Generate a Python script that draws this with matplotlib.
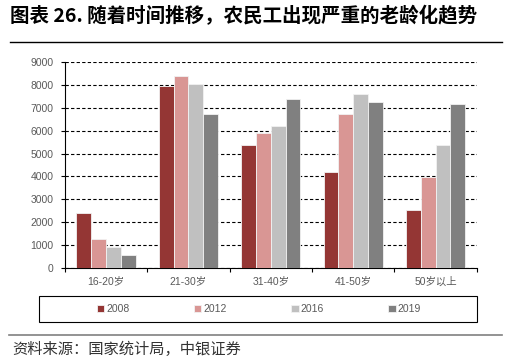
import numpy as np
import matplotlib
matplotlib.use('Agg')
from matplotlib import pyplot as plt
from matplotlib.patches import Rectangle
from matplotlib.lines import Line2D

plt.rcParams['font.family'] = ['Liberation Sans', 'Noto Sans CJK SC']

# data
age_groups = ['16-20岁', '21-30岁', '31-40岁', '41-50岁', '50岁以上']
years = ['2008', '2012', '2016', '2019']
vals_2008 = [2400, 7950, 5380, 4180, 2550]
vals_2012 = [1280, 8380, 5900, 6700, 3980]
vals_2016 = [930, 8030, 6180, 7600, 5380]
vals_2019 = [600, 6700, 7390, 7230, 7140]
series = [vals_2008, vals_2012, vals_2016, vals_2019]
colors = ['#943634', '#D99694', '#C0C0C0', '#808080']
yticks = list(range(0, 10000, 1000))

fig = plt.figure(figsize=(5.1, 3.62), dpi=100)
ax = fig.add_axes([0.1269, 0.2588, 0.935 - 0.1269, 0.8296 - 0.2588])

x = np.arange(len(age_groups))
w = 0.18
for i, (vals, c, yr) in enumerate(zip(series, colors, years)):
    ax.bar(x + (i - 1.5) * w, vals, width=w, color=c, edgecolor='#F2F2F2',
           linewidth=0.6, label=yr, zorder=3)

ax.set_xlim(-0.5, 4.5)
ax.set_ylim(0, 9000)
ax.set_yticks(yticks)
ax.set_yticklabels([str(v) for v in yticks])
ax.set_xticks(x)
ax.set_xticklabels(age_groups)
ax.set_xticks(np.arange(-0.5, 5, 1), minor=True)
ax.tick_params(axis='x', which='major', length=0, pad=6)
ax.tick_params(axis='x', which='minor', length=3, width=0.8, direction='out')
ax.tick_params(axis='y', length=3, width=0.8, direction='out', pad=5)
ax.tick_params(labelsize=7.5, labelcolor='#595959')
ax.grid(axis='y', linestyle=(0, (3, 2)), color='black', linewidth=0.8, zorder=0)
for s in ['top', 'right']:
    ax.spines[s].set_visible(False)
for s in ['left', 'bottom']:
    ax.spines[s].set_linewidth(0.8)

# legend box
fig.patches.append(Rectangle((39 / 510, 1 - 321.7 / 362), 438 / 510, 25.7 / 362,
                             transform=fig.transFigure, fill=False,
                             edgecolor='black', linewidth=0.8))
handles, labels = ax.get_legend_handles_labels()
leg = fig.legend(handles, labels, loc='center', ncol=4,
                 bbox_to_anchor=(259 / 510, 1 - 309 / 362),
                 frameon=False, fontsize=7.5, handlelength=0.7,
                 handleheight=0.7, handletextpad=0.2, columnspacing=6.2)
for t in leg.get_texts():
    t.set_color('#595959')

# title and footer
fig.text(10 / 510, 1 - 16 / 362, '图表 26. 随着时间推移，农民工出现严重的老龄化趋势',
         family=['Noto Sans CJK SC'], fontsize=14, fontweight='bold',
         va='center', ha='left')
fig.add_artist(Line2D([10 / 510, 502 / 510], [1 - 42 / 362, 1 - 42 / 362],
                      transform=fig.transFigure, color='black', linewidth=1.0))
fig.add_artist(Line2D([9 / 510, 502 / 510], [1 - 334.5 / 362, 1 - 334.5 / 362],
                      transform=fig.transFigure, color='#808080', linewidth=1.2))
fig.text(12 / 510, 1 - 349.5 / 362, '资料来源：国家统计局，中银证券',
         family=['Noto Sans CJK SC'], fontsize=11, style='italic',
         va='center', ha='left', color='#333333')

fig.savefig('out.png', dpi=100)
